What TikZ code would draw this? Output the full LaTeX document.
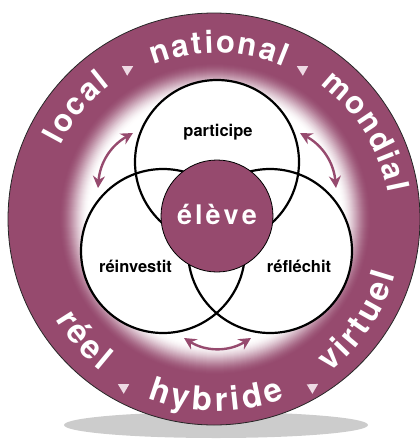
\documentclass[tikz,border=0pt]{standalone}
\usepackage{fontspec}
\setmainfont{TeX Gyre Heros}
\usetikzlibrary{arrows.meta}
\definecolor{purp}{RGB}{150,74,110}
\definecolor{tri}{RGB}{238,218,228}
\definecolor{shadowgray}{RGB}{204,204,204}
\newlength\chw
\newlength\totw
\newlength\cumw
\newlength\ringls
\newcommand\ringsize{31}
\newcommand\ringfont{\fontsize{\ringsize}{\ringsize}\selectfont\bfseries}
\newcommand\measurechar[1]{\setbox0=\hbox{\pgfinterruptpicture\ringfont #1\endpgfinterruptpicture}\global\chw=\wd0\relax}
% #1 centre angle, #2 baseline radius, #3 1 = top (reads clockwise), -1 = bottom, #4 letters
\newcommand\ringword[4]{%
  \global\totw=0pt
  \foreach \ltr in {#4}{\measurechar{\ltr}\global\advance\totw by \chw\global\advance\totw by \ringls}%
  \global\advance\totw by -\ringls
  \pgfmathsetmacro\wspan{\totw/(#2)*57.29578}%
  \global\cumw=0pt
  \foreach \ltr in {#4}{%
    \measurechar{\ltr}%
    \pgfmathsetmacro\ang{#1+#3*(\wspan/2-(\cumw+0.5*\chw)/(#2)*57.29578)}%
    \pgfmathsetmacro\rot{\ang-(#3)*90}%
    \node[ringletter, rotate=\rot] at (\ang:#2pt) {\ltr};%
    \global\advance\cumw by \chw\global\advance\cumw by \ringls
  }%
}
\tikzset{
  ringletter/.style={font=\ringfont, text=white, inner sep=0pt, anchor=base},
  venn/.style={circle, draw=black, line width=2.2pt, minimum size=164pt, inner sep=0pt},
  lab/.style={font=\fontsize{16.5}{16.5}\selectfont\bfseries, text=black, inner sep=0pt, anchor=base},
  marker/.style={fill=tri},
  cyc/.style={draw=purp, line width=2.4pt, {Stealth[length=12pt,width=12pt]}-{Stealth[length=12pt,width=12pt]}}
}
\begin{document}
\begin{tikzpicture}[x=1pt,y=1pt]
\useasboundingbox (0,0) rectangle (420,-440);
% shadow
\fill[shadowgray] (216,-425) ellipse [x radius=152pt, y radius=13pt];
% disk
\fill[purp] (214,-219) circle (206pt);
% radial fade
\foreach \r in {157,156,...,126}{%
  \pgfmathsetmacro\fr{(\r-126)/31}%
  \pgfmathsetmacro\p{100*\fr*\fr*(3-2*\fr)}%
  \fill[purp!\p!white] (215,-219) circle (\r pt);
}
\draw[black!85, line width=0.8pt] (214,-219) circle (206pt);
% ring words
\begin{scope}[shift={(216,-225)}]
  \renewcommand\ringsize{31}\global\ringls=2pt
  \ringword{140}{175}{1}{l,o,c,a,l}
  \ringword{89}{172}{1}{n,a,t,i,o,n,a,l}
  \ringword{32}{175}{1}{m,o,n,d,i,a,l}
  \renewcommand\ringsize{33}\global\ringls=3.5pt
  \ringword{221}{186}{-1}{r,é,e,l}
  \ringword{270}{186}{-1}{h,y,b,r,i,d,e}
  \ringword{326}{186}{-1}{v,i,r,t,u,e,l}
\end{scope}
% markers
\fill[marker, shift={(128,-69)}, rotate=29] (6,0) -- (-4,5.5) -- (-4,-5.5) -- cycle;
\fill[marker, shift={(302,-69)}, rotate=151] (6,0) -- (-4,5.5) -- (-4,-5.5) -- cycle;
\fill[marker, shift={(123,-387)}, rotate=150] (6,0) -- (-4,5.5) -- (-4,-5.5) -- cycle;
\fill[marker, shift={(313,-387)}, rotate=31] (6,0) -- (-4,5.5) -- (-4,-5.5) -- cycle;
% cycle arrows
\coordinate (l1) at (133,-133);
\coordinate (l2) at (98,-188);
\coordinate (r1) at (300,-133);
\coordinate (r2) at (336,-188);
\coordinate (b1) at (184,-338);
\coordinate (b2) at (251,-338);
\draw[cyc] (l1) to[bend right=28] (l2);
\draw[cyc] (r1) to[bend left=28] (r2);
\draw[cyc] (b1) to[bend right=32] (b2);
% venn circles
\fill[white] (217,-162) circle (82pt);
\fill[white] (163,-251) circle (82pt);
\fill[white] (270,-251) circle (82pt);
\node[venn] (top) at (217,-162) {};
\node[venn] (left) at (163,-251) {};
\node[venn] (right) at (270,-251) {};
% centre
\node[circle, fill=purp, draw=black, line width=0.8pt, minimum size=112pt, inner sep=0pt] (eleve) at (217,-216) {};
\node[inner sep=0pt, anchor=base, text=white, font=\fontsize{27}{27}\selectfont\bfseries] (eleveT) at (217,-224) {é\kern3pt l\kern3pt è\kern3pt v\kern3pt e};
% labels
\node[lab] (participe) at (218,-136) {participe};
\node[lab] (reinvestit) at (135.5,-272) {réinvestit};
\node[lab] (reflechit) at (299,-272) {réfléchit};
\end{tikzpicture}
\end{document}
